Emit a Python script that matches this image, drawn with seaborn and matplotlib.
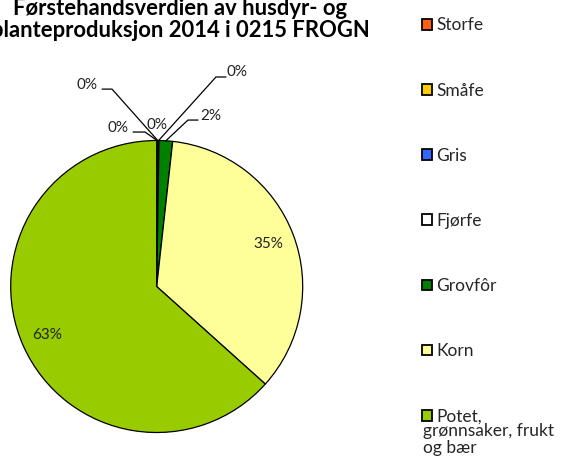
import matplotlib
matplotlib.use("Agg")
import matplotlib.pyplot as plt
import seaborn as sns
import numpy as np

# ---- data ----
categories = ["Storfe", "Småfe", "Gris", "Fjørfe", "Grovfôr", "Korn", "Potet,"]
last_label_rest = "grønnsaker, frukt\nog bær"
values = [0.08, 0.07, 0.02, 0.08, 1.5, 34.9, 63.35]
pct_labels = ["0%", "0%", "0%", "0%", "2%", "35%", "63%"]
colors = ["#FF6010", "#FFCC00", "#3366FF", "#FFFFFF", "#008000", "#FFFF99", "#99CC00"]
title = "Førstehandsverdien av husdyr- og\nplanteproduksjon 2014 i 0215 FROGN"

sns.set_theme(style="white")
plt.rcParams["font.family"] = ["Lato", "DejaVu Sans"]

fig = plt.figure(figsize=(5.69, 4.66), dpi=100)
W, H = 569, 466
cx, cy, r = 156.7, 286.5, 146.0
ax = fig.add_axes([(cx - r) / W, (H - cy - r) / H, 2 * r / W, 2 * r / H])

wedges, _ = ax.pie(values, colors=colors, startangle=90, counterclock=False,
                   radius=1.0,
                   wedgeprops=dict(edgecolor="black", linewidth=0.9))
ax.set_xlim(-1, 1)
ax.set_ylim(-1, 1)
ax.set_aspect("equal")
ax.axis("off")

# label layout (text position, leader elbow) for small slices, pie units
small_layout = {
    0: ((-0.265, 1.086), (-0.08, 1.058), (-0.162, 1.058)),
    1: ((-0.477, 1.38), (-0.306, 1.352), (-0.374, 1.352)),
    2: ((0.002, 1.106), None, None),
    3: ((0.55, 1.47), (0.406, 1.435), (0.475, 1.435)),
    4: ((0.372, 1.167), (0.214, 1.14), (0.283, 1.14)),
}
lab_fs = 11
for i, (w, lab) in enumerate(zip(wedges, pct_labels)):
    mid = np.deg2rad((w.theta1 + w.theta2) / 2)
    if i in small_layout:
        (tx, ty), elbow, end = small_layout[i]
        ax.text(tx, ty, lab, ha="center", va="center", fontsize=lab_fs,
                color="#222222", clip_on=False)
        if elbow is not None:
            ex, ey = np.cos(mid), np.sin(mid)
            ax.plot([ex, elbow[0], end[0]], [ey, elbow[1], end[1]],
                    color="black", lw=0.9, clip_on=False)
    else:
        d = 0.82
        ax.text(d * np.cos(mid), d * np.sin(mid), lab, ha="center", va="center",
                fontsize=lab_fs, color="#222222")

fig.text(180 / W, 1 - 37 / H, title, ha="center", va="baseline",
         fontsize=15.8, fontweight="bold", color="black", linespacing=1.08)

leg_fs = 12.5
leg = fig.legend(wedges, categories, loc="upper left",
                 bbox_to_anchor=(422 / W, 1 - 17.5 / H), frameon=False,
                 fontsize=leg_fs, handlelength=0.58, handleheight=0.58,
                 handletextpad=0.25, labelspacing=2.83, borderpad=0,
                 borderaxespad=0)
for h in leg.legend_handles:
    h.set_linewidth(1.3)
last_txt = leg.get_texts()[-1]
fig.canvas.draw()
ann = fig.text(0, 0, last_label_rest, fontsize=leg_fs, ha="left", va="top",
               linespacing=1.08)
bb = last_txt.get_window_extent()
ann.set_position((423 / W, (bb.y0 + 1.5) / fig.bbox.height))

fig.savefig("out.png", dpi=100)
